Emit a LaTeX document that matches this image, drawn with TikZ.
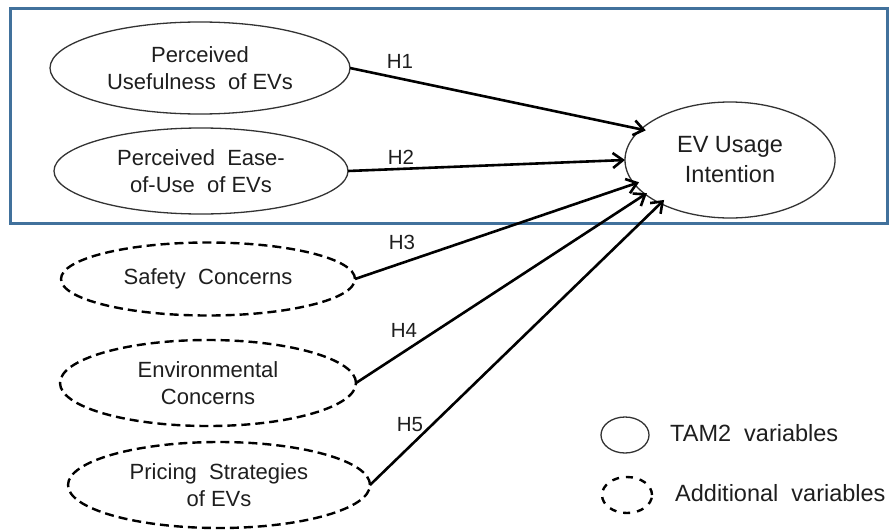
\documentclass[tikz,border=0pt]{standalone}
\usepackage{fontspec}
\setmainfont{Liberation Sans}
\usetikzlibrary{shapes.geometric,arrows.meta}
\definecolor{framecol}{RGB}{65,113,156}
\definecolor{inkcol}{RGB}{30,30,30}
\begin{document}
\begin{tikzpicture}[x=1pt,y=-1pt,
  var/.style={ellipse,draw=black!80,line width=1.3pt,inner sep=0pt,outer sep=0pt,
    align=center,text=inkcol,font=\fontsize{22}{26.7}\selectfont},
  addvar/.style={var,draw=black,line width=2.4pt,dash pattern=on 9pt off 5pt},
  hyp/.style={-{Straight Barb[length=10pt,width=15pt]},line width=2.6pt},
  hlabel/.style={font=\fontsize{20.5}{24}\selectfont,inner sep=0pt,text=inkcol},
  legtext/.style={anchor=west,inner sep=0pt,text=inkcol,font=\fontsize{23.5}{28}\selectfont}]

\useasboundingbox (0,0) rectangle (890,530);

% frame around the TAM2 constructs
\draw[framecol,line width=3pt] (10,8) rectangle (887,223);

% constructs
\node[var,minimum width=300pt,minimum height=92pt] (pu) at (200,68) {Perceived\\Usefulness~ of EVs};
\node[var,minimum width=294pt,minimum height=86pt] (pe) at (201,171) {Perceived~ Ease-\\of-Use~ of EVs};
\node[var,minimum width=210pt,minimum height=116pt,font=\fontsize{23.5}{30}\selectfont] (ev) at (730,160) {EV Usage\\Intention};
\node[addvar,minimum width=294pt,minimum height=73pt] (sc) at (208,279) {Safety~ Concerns};
\node[addvar,minimum width=296pt,minimum height=86pt] (ec) at (208,383) {Environmental\\Concerns};
\node[addvar,minimum width=302pt,minimum height=86pt] (ps) at (219,485) {Pricing~ Strategies\\of EVs};

% hypotheses
\draw[hyp,shorten >=-5pt] (pu.east) -- (ev.161);
\draw[hyp] (pe.east) -- (ev.180);
\draw[hyp,shorten >=-5pt] (sc.east) -- (ev.194);
\draw[hyp,shorten >=-2pt] (ec.east) -- (ev.202);
\draw[hyp,shorten >=-5pt] (ps.east) -- (ev.212);

\node[hlabel] (h1) at (400,61) {H1};
\node[hlabel] (h2) at (401,157.5) {H2};
\node[hlabel] (h3) at (402,242) {H3};
\node[hlabel] (h4) at (404,330) {H4};
\node[hlabel] (h5) at (410,425) {H5};

% legend
\node[ellipse,draw=black!80,line width=1.3pt,inner sep=0pt,minimum width=48pt,minimum height=36pt] (leg1) at (625,435) {};
\node[legtext] (leg1t) at (670,433) {TAM2~ variables};
\node[ellipse,draw=black,line width=2.4pt,dash pattern=on 7pt off 7pt,inner sep=0pt,minimum width=50pt,minimum height=36pt] (leg2) at (627,495) {};
\node[legtext] (leg2t) at (675,493) {Additional~ variables};
\end{tikzpicture}
\end{document}
